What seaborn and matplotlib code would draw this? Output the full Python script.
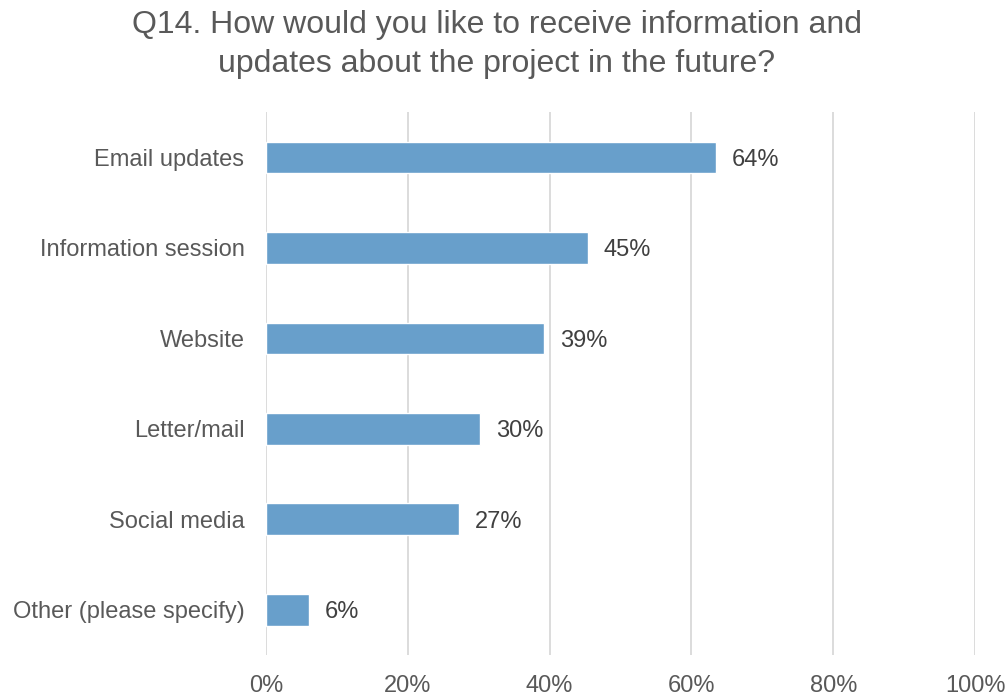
import numpy as np
import pandas as pd
import matplotlib
matplotlib.use("Agg")
import matplotlib.pyplot as plt
import seaborn as sns

categories = ["Email updates", "Information session", "Website",
              "Letter/mail", "Social media", "Other (please specify)"]
percent = [63.5, 45.4, 39.2, 30.2, 27.2, 6.1]
labels = ["64%", "45%", "39%", "30%", "27%", "6%"]
xticks = [0, 20, 40, 60, 80, 100]

sns.set_style("white")
plt.rcParams["font.family"] = ["Liberation Sans", "DejaVu Sans"]

df = pd.DataFrame({"category": categories, "percent": percent})

fig = plt.figure(figsize=(10.06, 6.97), dpi=100)
ax = fig.add_axes([0.2644, 0.0603, 0.7048, 0.7787])

sns.barplot(data=df, x="percent", y="category", color="#689FCB",
            saturation=1, width=0.35, ax=ax, zorder=3)

ax.set_xlim(0, 100)
ax.set_ylim(5.5, -0.5)
ax.set_xticks(xticks)
ax.set_xticklabels([f"{t}%" for t in xticks])
ax.tick_params(axis="x", labelsize=17, colors="#595959", length=0, pad=14.5)
ax.tick_params(axis="y", labelsize=17, colors="#595959", length=0, pad=15.5)
ax.grid(axis="x", color="#D9D9D9", linewidth=1.3, zorder=0)
for s in ax.spines.values():
    s.set_visible(False)
ax.set_xlabel("")
ax.set_ylabel("")

for i, (v, lab) in enumerate(zip(percent, labels)):
    ax.annotate(lab, (v, i), xytext=(11.5, 0), textcoords="offset points",
                va="center_baseline", ha="left", fontsize=17, color="#404040")

fig.suptitle("Q14. How would you like to receive information and\nupdates about the project in the future?",
             fontsize=23, color="#595959", x=0.494, y=0.985, linespacing=1.38)

fig.savefig("out.png", dpi=100)
